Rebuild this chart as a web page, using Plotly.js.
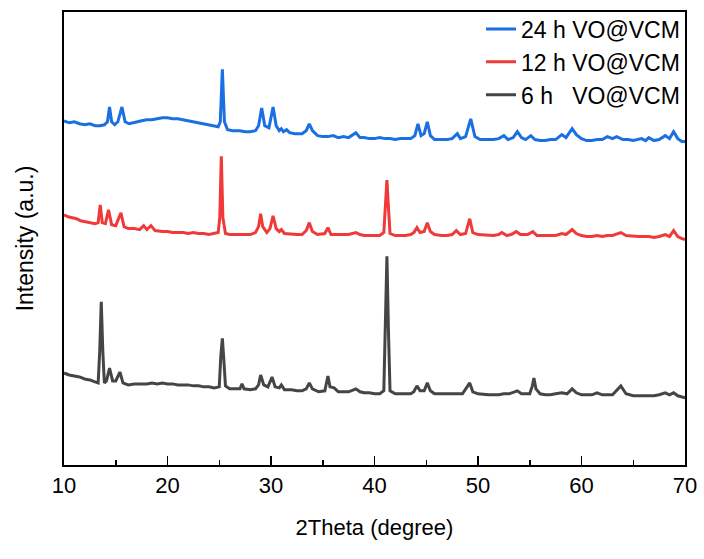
<!DOCTYPE html>
<html>
<head>
<meta charset="utf-8">
<script src="https://cdn.plot.ly/plotly-3.0.1.min.js"></script>
<style>html,body{margin:0;padding:0;background:#fff;}#chart{width:704px;height:559px;}</style>
</head>
<body>
<div id="chart"></div>
<script>
const seriesNames = ["24 h VO@VCM", "12 h VO@VCM", "6 h\u00a0\u00a0\u00a0VO@VCM"];
const xTicks = [10, 20, 30, 40, 50, 60, 70];

const x24 = [10.0,10.5,11.0,11.5,12.0,12.5,13.0,13.5,13.9,14.2,14.4,14.6,14.9,15.2,15.6,15.9,16.3,17.0,17.5,18.0,18.5,19.0,19.5,20.0,20.5,21.0,21.5,22.0,22.5,23.0,23.5,24.0,24.5,24.9,25.1,25.3,25.5,25.8,26.3,27.0,27.5,28.0,28.5,28.8,29.1,29.4,29.8,30.2,30.5,30.8,31.0,31.2,31.5,31.8,32.3,33.0,33.4,33.7,34.0,34.5,35.0,35.5,36.0,36.5,37.0,37.5,38.2,38.6,39.0,39.5,40.0,40.5,41.0,41.5,42.0,42.5,43.0,43.5,43.9,44.2,44.5,44.8,45.1,45.4,45.8,46.5,47.0,47.5,48.0,48.3,48.8,49.3,49.7,50.2,51.0,51.5,52.0,52.5,52.9,53.4,53.8,54.2,54.6,55.1,55.5,56.0,56.5,57.0,57.5,58.1,58.5,59.1,59.5,60.0,60.5,61.0,61.5,62.0,62.5,63.0,63.4,64.0,64.5,65.0,65.8,66.2,66.5,67.0,67.5,68.1,68.5,68.9,69.3,69.7,70.0];
const y24 = [348,346,347,345,344,345,343,343,344,347,362,347,344,347,362,347,345,347,348,349,349,350,351,351,350,350,349,348,347,346,345,344,343,342,347,400,347,339,338,338,337,337,338,343,361,343,341,362,343,338,340,337,339,336,335,335,338,345,338,333,332,332,333,331,332,331,336,331,331,330,330,331,330,330,329,330,330,330,333,345,333,335,347,333,329,329,329,330,335,330,332,350,332,329,329,329,330,333,329,331,337,331,329,333,329,328,328,329,329,334,331,340,334,330,328,328,329,329,332,330,332,329,329,328,330,328,331,328,329,333,330,337,330,327,327];

const x12 = [10.0,10.4,10.8,11.2,11.6,12.0,12.5,13.0,13.3,13.5,13.7,14.0,14.3,14.6,15.0,15.5,15.8,16.2,16.8,17.3,17.7,18.0,18.4,18.8,19.5,20.0,20.5,21.0,21.5,22.0,22.5,23.0,23.5,24.0,24.5,24.9,25.05,25.2,25.35,25.6,26.0,26.5,27.0,27.5,28.0,28.5,28.8,29.0,29.2,29.6,29.9,30.2,30.5,30.8,31.0,31.3,32.0,32.5,33.0,33.4,33.7,34.0,34.5,35.2,35.5,35.8,36.5,37.0,37.5,38.2,38.6,39.0,39.5,40.0,40.5,40.9,41.05,41.2,41.35,41.5,42.0,42.5,43.0,43.5,43.8,44.1,44.4,44.8,45.1,45.4,45.8,46.5,47.0,47.5,47.9,48.3,48.8,49.2,49.5,50.0,51.0,51.5,52.0,52.3,52.8,53.2,53.7,54.1,54.8,55.3,55.7,56.5,57.0,57.5,58.1,58.5,59.1,59.5,60.0,60.5,61.0,61.5,62.0,62.5,63.0,63.8,64.3,65.0,65.5,66.0,66.5,67.0,67.5,68.1,68.5,68.9,69.3,69.7,70.0];
const y12 = [253,251,250,249,247,246,245,244,245,263,245,244,258,243,242,255,241,239,239,238,242,238,242,237,236,236,235,235,235,234,235,234,234,233,234,235,250,312,250,234,233,233,233,233,233,235,241,254,241,235,239,252,239,236,238,234,233,233,233,237,245,236,233,234,240,233,233,233,233,235,233,232,232,232,232,235,260,288,260,234,232,232,232,233,235,240,235,236,245,236,233,232,232,233,237,233,234,249,235,233,232,232,233,235,232,233,236,233,233,236,232,232,232,232,234,233,238,234,232,231,231,232,231,232,232,235,232,231,231,231,231,230,231,233,231,237,231,229,228];

const x6 = [10.0,10.5,11.0,11.5,12.0,12.5,13.0,13.3,13.45,13.6,13.75,13.9,14.1,14.4,14.7,15.0,15.4,15.7,16.2,16.8,17.5,18.0,18.5,19.0,19.5,20.0,20.5,21.0,21.5,22.0,22.5,23.0,23.5,24.0,24.5,25.0,25.15,25.3,25.45,25.6,26.0,26.5,27.0,27.2,27.4,28.0,28.5,28.8,29.0,29.3,29.7,30.1,30.4,30.8,31.0,31.3,32.0,32.5,33.0,33.4,33.7,34.0,34.6,35.2,35.4,35.5,35.7,36.1,36.5,37.0,37.5,38.2,38.6,39.0,39.5,40.0,40.5,40.9,41.05,41.2,41.35,41.5,42.0,42.5,43.0,43.5,43.8,44.1,44.4,44.8,45.1,45.4,45.8,46.5,47.0,47.5,48.0,48.5,49.2,49.5,50.0,51.0,52.0,52.5,53.0,53.8,54.2,55.0,55.25,55.4,55.6,56.0,56.5,57.0,57.5,58.1,58.6,59.1,59.5,60.0,60.5,61.0,61.5,62.0,62.5,63.0,63.8,64.3,65.0,65.5,66.0,66.5,67.0,67.5,68.1,68.5,68.9,69.3,69.7,70.0];
const y6 = [93,91,90,89,87,86,84,83,115,165,115,83,85,98,85,85,94,83,81,82,82,82,83,82,83,82,82,81,81,81,80,80,79,79,78,79,110,128,105,80,77,77,77,82,77,76,77,81,91,81,79,89,79,78,81,76,76,75,75,77,83,77,74,75,87,90,79,78,74,74,74,77,74,73,73,72,72,75,135,211,135,75,72,72,72,72,74,80,75,75,83,75,72,72,72,72,72,72,83,74,72,71,71,72,72,75,72,72,80,88,77,72,71,71,72,73,72,77,73,71,71,71,73,71,71,71,80,72,70,70,70,70,70,71,73,71,73,70,69,68];

const colors = ["#1a6fe3", "#f03a3a", "#454545"];

const traces = [
  {x: x24, y: y24, name: seriesNames[0]},
  {x: x12, y: y12, name: seriesNames[1]},
  {x: x6, y: y6, name: seriesNames[2]}
].map((t, i) => Object.assign(t, {
  type: "scatter", mode: "lines",
  line: {color: colors[i], width: 3, shape: "linear"}
}));

const font = {family: "Liberation Sans, Arial, sans-serif", color: "#000"};

const layout = {
  width: 704, height: 559,
  margin: {l: 64, r: 19, t: 7, b: 94},
  paper_bgcolor: "#fff", plot_bgcolor: "#fff",
  font: Object.assign({size: 22}, font),
  showlegend: true,
  legend: {
    x: 1, xanchor: "right", y: 1.01, yanchor: "top",
    bgcolor: "rgba(0,0,0,0)", borderwidth: 0,
    font: Object.assign({size: 23}, font),
    traceorder: "normal", tracegroupgap: 0, itemwidth: 30
  },
  xaxis: {
    range: [10, 70], tickvals: xTicks, ticktext: xTicks.map(String),
    showline: true, linecolor: "#000", linewidth: 1.6, mirror: true,
    ticks: "inside", ticklen: 9, tickwidth: 1.5, tickcolor: "#000",
    minor: {dtick: 5, ticks: "inside", ticklen: 5, tickwidth: 1.5, tickcolor: "#000"},
    showgrid: false, zeroline: false,
    tickfont: Object.assign({size: 22}, font),
    title: {text: "2Theta (degree)", font: Object.assign({size: 22}, font), standoff: 22}
  },
  yaxis: {
    range: [0, 458],
    showline: true, linecolor: "#000", linewidth: 1.6, mirror: true,
    ticks: "", showticklabels: false, showgrid: false, zeroline: false,
    title: {text: "Intensity (a.u.)", font: Object.assign({size: 23}, font), standoff: 22}
  }
};

Plotly.newPlot("chart", traces, layout, {displayModeBar: false, staticPlot: true});
</script>
</body>
</html>
